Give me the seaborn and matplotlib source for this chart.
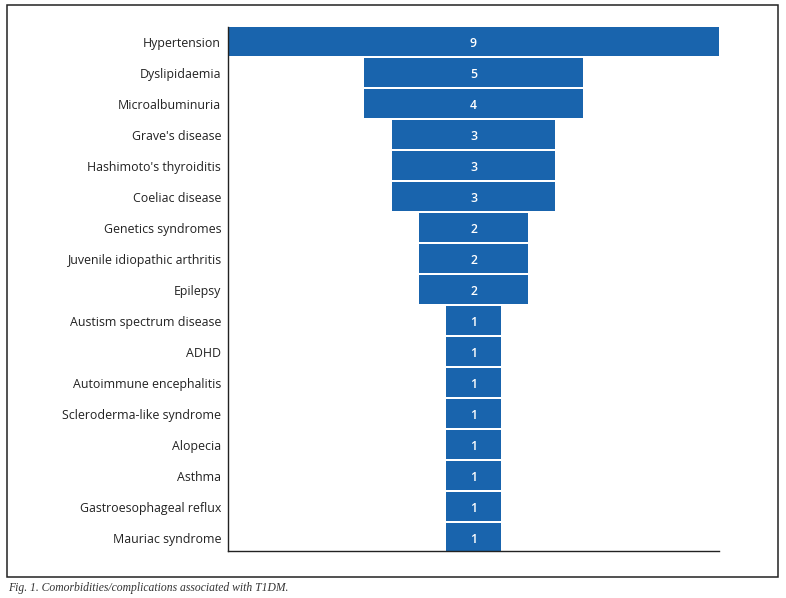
import matplotlib
matplotlib.use("Agg")
import matplotlib.pyplot as plt
import seaborn as sns
import pandas as pd
from matplotlib.patches import Rectangle

categories = ["Hypertension", "Dyslipidaemia", "Microalbuminuria", "Grave's disease",
              "Hashimoto's thyroiditis", "Coeliac disease", "Genetics syndromes",
              "Juvenile idiopathic arthritis", "Epilepsy", "Austism spectrum disease",
              "ADHD", "Autoimmune encephalitis", "Scleroderma-like syndrome", "Alopecia",
              "Asthma", "Gastroesophageal reflux", "Mauriac syndrome"]
counts = [9, 5, 4, 3, 3, 3, 2, 2, 2, 1, 1, 1, 1, 1, 1, 1, 1]
# bar lengths as drawn in the reference (Dyslipidaemia bar is drawn at width 4)
bar_lengths = [9, 4, 4, 3, 3, 3, 2, 2, 2, 1, 1, 1, 1, 1, 1, 1, 1]
caption = "Fig. 1. Comorbidities/complications associated with T1DM."

color = "#1964ad"

sns.set_theme(style="white")
plt.rcParams['font.family'] = ['Open Sans', 'DejaVu Sans']

df = pd.DataFrame({"cat": categories, "count": counts, "len": bar_lengths})
df["right"] = df["len"] / 2
df["left"] = -df["len"] / 2

fig = plt.figure(figsize=(7.86, 5.98), dpi=100)
ax = fig.add_axes([228/786, 1-551/598, (719-228)/786, (551-27)/598])

sns.barplot(data=df, x="right", y="cat", orient="h", color=color, width=0.93,
            saturation=1, linewidth=0, ax=ax)
sns.barplot(data=df, x="left", y="cat", orient="h", color=color, width=0.93,
            saturation=1, linewidth=0, ax=ax)

for i, c in enumerate(counts):
    ax.text(0, i + 0.06, str(c), ha="center", va="center", color="white",
            fontsize=8.8, fontweight="semibold")

ax.set_xlim(-4.5, 4.5)
ax.set_ylim(16.43, -0.47)
ax.set_xlabel("")
ax.set_ylabel("")
ax.set_xticks([])
ax.tick_params(axis="y", length=0, pad=5, labelsize=8.9, labelcolor="#222222")
for lbl in ax.get_yticklabels():
    lbl.set_va("center_baseline")
for s in ["top", "right"]:
    ax.spines[s].set_visible(False)
for s in ["left", "bottom"]:
    ax.spines[s].set_color("#222222")
    ax.spines[s].set_linewidth(1.0)

fig.patches.append(Rectangle((7/786, 1-577/598), (778-7)/786, (577-5)/598,
                             transform=fig.transFigure, fill=False,
                             edgecolor="#222222", linewidth=1.1))
fig.text(8/786, 1-588/598, caption, ha="left", va="center", fontsize=8.4,
         style="italic", family=["Liberation Serif", "DejaVu Serif"], color="#333333")

fig.savefig("out.png", dpi=100)
